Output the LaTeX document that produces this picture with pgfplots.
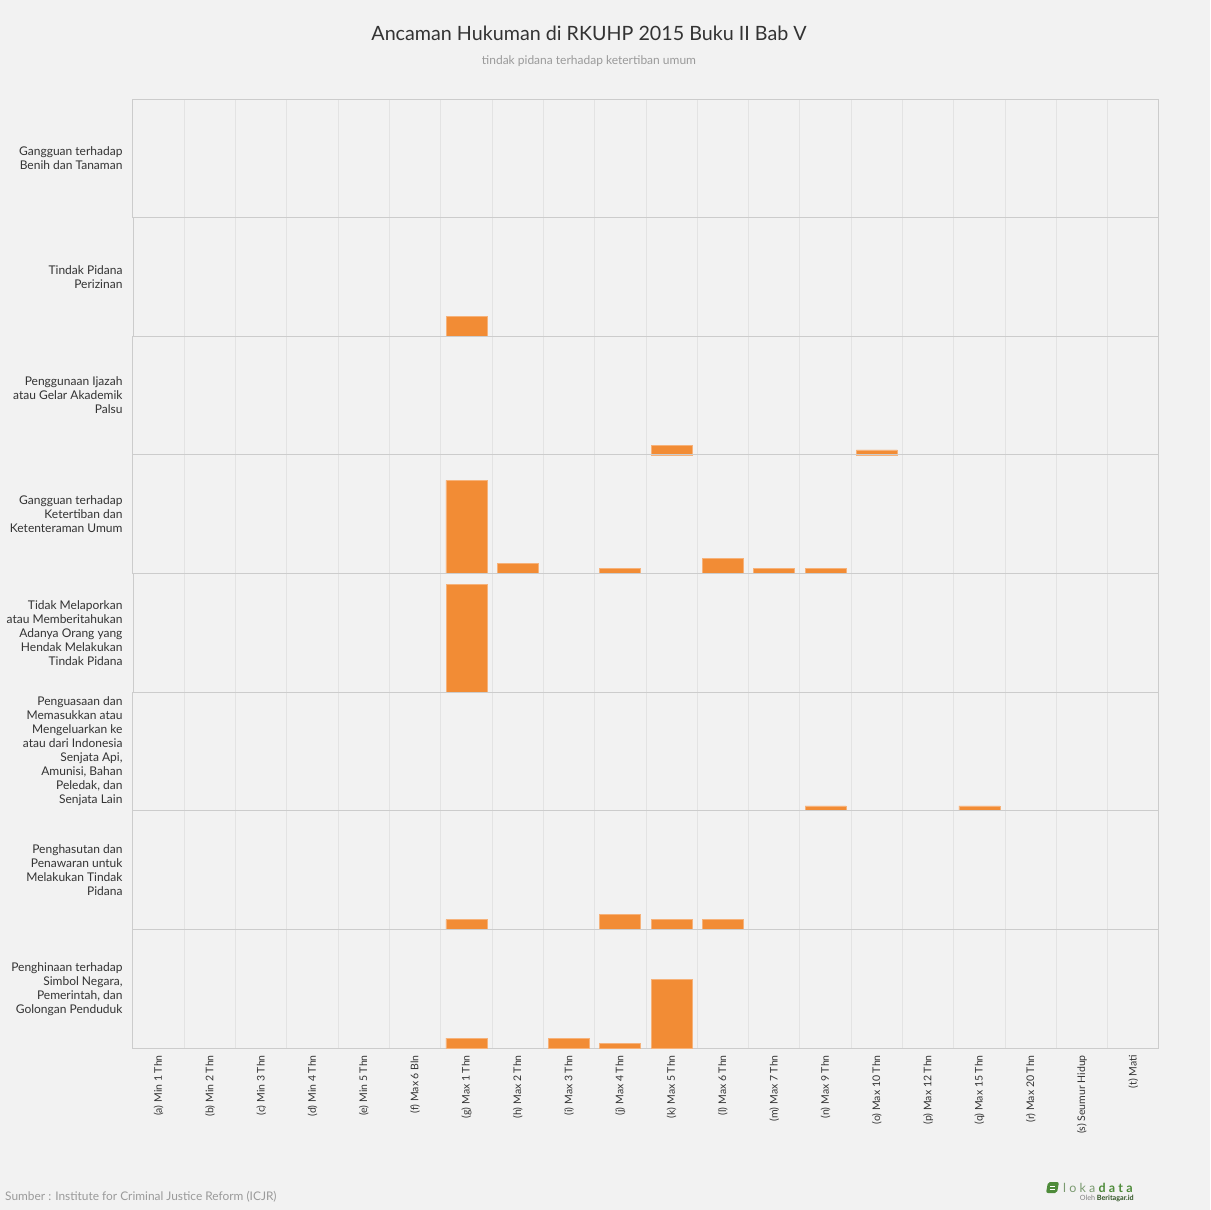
\documentclass[border=0pt]{standalone}
\usepackage{pgfplots}
\pgfplotsset{compat=1.18}
\usepackage{fontspec}
\setmainfont{Lato}
\definecolor{bg}{HTML}{F2F2F2}
\definecolor{barc}{HTML}{F28C35}
\definecolor{barline}{HTML}{F6B27A}
\definecolor{sep}{HTML}{CCCCCC}
\definecolor{gridc}{HTML}{E3E3E3}
\definecolor{txt}{HTML}{333333}
\definecolor{subc}{HTML}{9A9A9A}
\definecolor{logo}{HTML}{4E8B3A}
\definecolor{logolt}{HTML}{7A9A70}
\pgfplotsset{
 rowax/.style={
  width=1026pt, height=118.625pt, scale only axis,
  anchor=north west,
  xmin=-0.5, xmax=19.5, ymin=0, ymax=24.2,
  ytick=\empty,
  xtick={0,...,19}, xticklabels={},
  minor xtick={0.5,1.5,...,18.5},
  xminorgrids=true,
  minor grid style={gridc, line width=0.8pt},
  major tick length=0pt, minor tick length=0pt,
  axis line style={sep, line width=1pt},
  ybar, bar width=41pt, clip=false,
 },
 barst/.style={fill=barc, draw=barline, line width=0.7pt},
}
\newcommand{\rowlab}[1]{\node[anchor=east, align=right, xshift=-7pt, text=txt, font=\fontsize{12}{14}\selectfont] at (rel axis cs:0,0.5) {#1};}
\begin{document}
\begin{tikzpicture}
\path[use as bounding box, fill=bg] (0,0) rectangle (1210pt,-1210pt);
\node[text=txt, font=\fontsize{19.7}{23}\selectfont] at (589pt,-33pt) {Ancaman Hukuman di RKUHP 2015 Buku II Bab V};
\node[text=subc, font=\fontsize{12}{14}\selectfont] at (589pt,-61pt) {tindak pidana terhadap ketertiban umum};
% row 1
\begin{axis}[rowax, at={(133pt,-99pt)}]
\addplot[draw=none, fill=none] coordinates {(0,0)};
\rowlab{Gangguan terhadap\\Benih dan Tanaman}
\end{axis}
% row 2
\begin{axis}[rowax, at={(133pt,-217.625pt)}]
\addplot[barst] coordinates {(6,4)};
\rowlab{Tindak Pidana\\Perizinan}
\end{axis}
% row 3
\begin{axis}[rowax, at={(133pt,-336.25pt)}]
\addplot[barst] coordinates {(10,2) (14,1)};
\rowlab{Penggunaan Ijazah\\atau Gelar Akademik\\Palsu}
\end{axis}
% row 4
\begin{axis}[rowax, at={(133pt,-454.875pt)}]
\addplot[barst] coordinates {(6,19) (7,2) (9,1) (11,3) (12,1) (13,1)};
\rowlab{Gangguan terhadap\\Ketertiban dan\\Ketenteraman Umum}
\end{axis}
% row 5
\begin{axis}[rowax, at={(133pt,-573.5pt)}]
\addplot[barst] coordinates {(6,22)};
\rowlab{Tidak Melaporkan\\atau Memberitahukan\\Adanya Orang yang\\Hendak Melakukan\\Tindak Pidana}
\end{axis}
% row 6
\begin{axis}[rowax, at={(133pt,-692.125pt)}]
\addplot[barst] coordinates {(13,1) (16,1)};
\rowlab{Penguasaan dan\\Memasukkan atau\\Mengeluarkan ke\\atau dari Indonesia\\Senjata Api,\\Amunisi, Bahan\\Peledak, dan\\Senjata Lain}
\end{axis}
% row 7
\begin{axis}[rowax, at={(133pt,-810.75pt)}]
\addplot[barst] coordinates {(6,2) (9,3) (10,2) (11,2)};
\rowlab{Penghasutan dan\\Penawaran untuk\\Melakukan Tindak\\Pidana}
\end{axis}
% row 8
\begin{axis}[rowax, at={(133pt,-929.375pt)},
  xticklabels={(a) Min 1 Thn,(b) Min 2 Thn,(c) Min 3 Thn,(d) Min 4 Thn,(e) Min 5 Thn,(f) Max 6 Bln,(g) Max 1 Thn,(h) Max 2 Thn,(i) Max 3 Thn,(j) Max 4 Thn,(k) Max 5 Thn,(l) Max 6 Thn,(m) Max 7 Thn,(n) Max 9 Thn,(o) Max 10 Thn,(p) Max 12 Thn,(q) Max 15 Thn,(r) Max 20 Thn,(s) Seumur Hidup,(t) Mati},
  x tick label style={rotate=90, anchor=east, text=txt, font=\fontsize{10.5}{12}\selectfont, inner sep=0pt},
  xticklabel shift=7pt]
\addplot[barst] coordinates {(6,2) (8,2) (9,1) (10,14)};
\rowlab{Penghinaan terhadap\\Simbol Negara,\\Pemerintah, dan\\Golongan Penduduk}
\end{axis}
\node[anchor=west, inner sep=0pt, text=subc, font=\fontsize{11.9}{13}\selectfont] at (5pt,-1197pt) {Sumber : Institute for Criminal Justice Reform (ICJR)};
% logo
\fill[logo, rounded corners=2pt] (1048pt,-1182pt) -- (1059pt,-1182pt) -- (1057pt,-1193pt) -- (1046pt,-1193pt) -- cycle;
\draw[white, line width=0.8pt] (1050pt,-1186pt) -- (1055pt,-1186pt) (1049.5pt,-1189pt) -- (1054.5pt,-1189pt);
\node[anchor=west, inner sep=0pt, font=\fontsize{12.5}{14}\selectfont] at (1063pt,-1188pt) {\color{logolt}l\kern3.2pt o\kern3.2pt k\kern3.2pt a\kern3.2pt\color{logo}\bfseries d\kern3.2pt a\kern3.2pt t\kern3.2pt a};
\node[anchor=east, inner sep=0pt, font=\fontsize{7.2}{8}\selectfont] at (1134pt,-1198pt) {\color{gray}Oleh \color{logo!60!black}\bfseries Beritagar.id};
\end{tikzpicture}
\end{document}
